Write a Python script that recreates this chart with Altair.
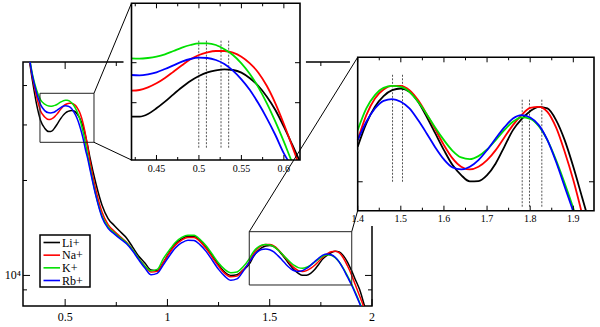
import altair as alt
import pandas as pd

# ---------------- data ----------------
X = [0.30, 0.32, 0.34, 0.36, 0.38, 0.40,
     0.42, 0.43, 0.44, 0.45, 0.46, 0.47, 0.48, 0.49, 0.50, 0.51, 0.52, 0.53, 0.54,
     0.55, 0.56, 0.57, 0.58, 0.59, 0.60, 0.61, 0.62,
     0.65, 0.68, 0.71, 0.74, 0.77, 0.80, 0.83, 0.86, 0.89, 0.92, 0.95, 0.98, 1.01,
     1.04, 1.07, 1.10, 1.13, 1.16, 1.19, 1.22, 1.25, 1.28, 1.31, 1.34, 1.37,
     1.40, 1.42, 1.44, 1.46, 1.48, 1.50, 1.52, 1.54, 1.56, 1.58, 1.60, 1.62, 1.64,
     1.66, 1.68, 1.70, 1.72, 1.74, 1.76, 1.78, 1.80, 1.82, 1.84, 1.86, 1.88, 1.90,
     1.92, 1.94,
     1.96, 1.98, 2.00]

LI = [60000, 50500, 41500, 35000, 31000, 29300,
      28603, 28603, 28870, 29437, 30103, 30837, 31537, 32170, 32670, 33037, 33237, 33337, 33270,
      33003, 32437, 31670, 30603, 29270, 27603, 25770, 23900,
      19600, 16730, 15150, 14400, 13750, 13150, 12300, 11500, 10950, 10400, 10350, 11000, 11850,
      12600, 13050, 13300, 13280, 12900, 12250, 11500, 10800, 10250, 10000, 10050, 10400,
      10855, 11466, 11922, 12223, 12397, 12445, 12348, 12063, 11646, 11200, 10771, 10399, 10158,
      10009, 10016, 10158, 10440, 10855, 11288, 11583, 11801, 11922, 11876, 11556, 11025, 10358,
      9655, 9000,
      8150, 7350, 6600]

NA = [60000, 51000, 42500, 37000, 33200, 31800,
      31203, 31270, 31537, 31937, 32470, 33103, 33737, 34337, 34770, 35037, 35170, 35170, 35003,
      34603, 33937, 33003, 31670, 29937, 27870, 25603, 23300,
      18700, 15900, 14500, 13800, 13250, 12750, 12050, 11300, 10700, 10250, 10300, 11000, 11800,
      12500, 12950, 13200, 13180, 12800, 12150, 11400, 10700, 10150, 9900, 9950, 10400,
      11025, 11692, 12157, 12416, 12523, 12523, 12397, 12110, 11719, 11306, 10897, 10563, 10358,
      10294, 10358, 10521, 10771, 11095, 11421, 11692, 11894, 11922, 11783, 11359, 10729, 10040,
      9286, 8590,
      7950, 7300, 6700]

KK = [60000, 51500, 43500, 38800, 36000, 34900,
      34437, 34403, 34470, 34603, 34837, 35170, 35503, 35770, 35937, 35937, 35770, 35337, 34770,
      33937, 32870, 31537, 29937, 28103, 26103, 24000, 22300,
      18000, 15450, 14250, 13650, 13150, 12700, 12050, 11300, 10700, 10350, 10450, 11300, 12050,
      12750, 13200, 13420, 13400, 13000, 12400, 11650, 10950, 10450, 10200, 10250, 10650,
      11288, 11876, 12252, 12465, 12523, 12494, 12348, 12063, 11719, 11350, 11025, 10754, 10587,
      10546, 10620, 10788, 11025, 11288, 11511, 11628, 11592, 11394, 11025, 10521, 9962, 9395,
      8791, 8194,
      7600, 7000, 6400]

RB = [60000, 51200, 43000, 38000, 34800, 33300,
      32770, 32737, 32837, 33037, 33370, 33737, 34103, 34370, 34503, 34470, 34270, 33870, 33203,
      32337, 31270, 29937, 28437, 26770, 24937, 23500, 21900,
      17900, 15300, 14100, 13550, 13050, 12600, 11950, 11200, 10550, 10050, 10150, 10800, 11550,
      12250, 12700, 12940, 12900, 12500, 11900, 11150, 10450, 9950, 9650, 9750, 10300,
      11025, 11511, 11876, 12091, 12138, 12063, 11876, 11556, 11200, 10838, 10538, 10342, 10294,
      10358, 10521, 10771, 11069, 11359, 11601, 11692, 11628, 11421, 11025, 10480, 9884, 9322,
      8724, 8130,
      7550, 6950, 6350]

NAMES = ["Li+", "Na+", "K+", "Rb+"]
SERIES = [LI, NA, KK, RB]

# main panel axes
MAIN_X = [0.294, 2.0]
MAIN_Y = [8000, 47500]
MAIN_XT_MAJOR = [0.5, 1.0, 1.5, 2.0]
MAIN_XT_LABELS = ["0.5", "1", "1.5", "2"]
MAIN_XT_MINOR = [0.75, 1.25, 1.75]
MAIN_YT_MAJOR = [10000]
MAIN_YT_LABELS = ["10\u2074"]
MAIN_YT_MINOR = [9000, 20000, 30000, 40000]
ZOOM1 = [0.377, 0.641, 26430, 37800]
ZOOM2 = [1.40, 1.901, 9326, 13763]
CONN_X1 = [0.641, 0.641, 1.40, 1.901]
CONN_Y1 = [37800, 26430, 13763, 13763]
CONN_X2 = [0.824, 0.824, 1.930, 1.930]
CONN_Y2 = [72910, 23230, 49160, 16045]

# inset 1
IN1_X = [0.4206, 0.619]
IN1_Y = [24270, 39940]
IN1_XT_MAJOR = [0.45, 0.5, 0.55, 0.6]
IN1_XT_LABELS = ["0.45", "0.5", "0.55", "0.6"]
IN1_XT_MINOR = [0.425, 0.475, 0.525, 0.575]
IN1_YT = [30000, 34000]
IN1_DASH_X = [0.4998, 0.5088, 0.526, 0.535]
IN1_DASH_LO = [25500, 25500, 25500, 25500]
IN1_DASH_HI = [36340, 36340, 36340, 36340]

# inset 2
IN2_X = [1.4, 1.948]
IN2_Y = [9344, 13390]
IN2_XT_MAJOR = [1.4, 1.5, 1.6, 1.7, 1.8, 1.9]
IN2_XT_LABELS = ["1.4", "1.5", "1.6", "1.7", "1.8", "1.9"]
IN2_XT_MINOR = [1.45, 1.55, 1.65, 1.75, 1.85]
IN2_YT = [10000]
IN2_DASH_X = [1.4808, 1.5039, 1.7815, 1.7984, 1.827]
IN2_DASH_LO = [10000, 10000, 9432, 9432, 9432]
IN2_DASH_HI = [12890, 12890, 12155, 12155, 12155]

# ---------------- layout / style ----------------
W, H = 349, 244
PAD = {"left": 23, "top": 62, "right": 228, "bottom": 21}
FONT = "Liberation Serif"
COLORS = ["#000000", "#ff0000", "#00e000", "#0000ff"]
IN1_XR, IN1_YR = [108.5, 277], [98, -58.7]
IN2_XR, IN2_YR = [334.7, 571], [148.7, -4.7]


def sc(domain, rng, log=False):
    if log:
        return alt.Scale(type="log", domain=domain, range=rng, nice=False)
    return alt.Scale(domain=domain, range=rng, nice=False, zero=False)


mx, my = sc(MAIN_X, [0, W]), sc(MAIN_Y, [H, 0], log=True)
i1x, i1y = sc(IN1_X, IN1_XR), sc(IN1_Y, IN1_YR)
i2x, i2y = sc(IN2_X, IN2_XR), sc(IN2_Y, IN2_YR, log=True)


def series_df(i, lo=None, hi=None, cut=None):
    df = pd.DataFrame({"x": X, "v": SERIES[i]})
    if lo is not None:
        df = df[(df.x >= lo - 1e-9) & (df.x <= hi + 1e-9)]
    if cut is not None:
        df = df[df.v >= cut]
    return df


def line_layers(xs, ys, width, clip, lo=None, hi=None, cut=None):
    out = []
    for i in range(4):
        out.append(
            alt.Chart(series_df(i, lo, hi, cut))
            .mark_line(color=COLORS[i], strokeWidth=width, interpolate="monotone", clip=clip)
            .encode(x=alt.X("x:Q", scale=xs, axis=None),
                    y=alt.Y("v:Q", scale=ys, axis=None))
        )
    return out


def vticks(vals, xs, ys, yd, length):
    return alt.Chart(pd.DataFrame({"t": vals})).mark_rule(
        color="black", strokeWidth=1, y2Offset=length
    ).encode(
        x=alt.X("t:Q", scale=xs, axis=None),
        y=alt.YDatum(yd, scale=ys, axis=None, type="quantitative"),
        y2=alt.Y2Datum(yd),
    )


def hticks(vals, xs, ys, xd, length):
    return alt.Chart(pd.DataFrame({"t": vals})).mark_rule(
        color="black", strokeWidth=1, x2Offset=length
    ).encode(
        y=alt.Y("t:Q", scale=ys, axis=None),
        x=alt.XDatum(xd, scale=xs, axis=None, type="quantitative"),
        x2=alt.X2Datum(xd),
    )


def xlabels(vals, texts, xs, ys, yd, dy, size):
    return alt.Chart(pd.DataFrame({"t": vals, "s": texts})).mark_text(
        font=FONT, fontSize=size, dy=dy, baseline="middle", align="center", color="black"
    ).encode(
        x=alt.X("t:Q", scale=xs, axis=None),
        y=alt.YDatum(yd, scale=ys, axis=None, type="quantitative"),
        text="s:N",
    )


def ylabels(vals, texts, xs, ys, xd, dx, size):
    return alt.Chart(pd.DataFrame({"t": vals, "s": texts})).mark_text(
        font=FONT, fontSize=size, dx=dx, baseline="middle", align="right", color="black"
    ).encode(
        y=alt.Y("t:Q", scale=ys, axis=None),
        x=alt.XDatum(xd, scale=xs, axis=None, type="quantitative"),
        text="s:N",
    )


def box(bx, xs, ys, fill="white", fill_opacity=0.0, stroke="black", sw=1.0):
    df = pd.DataFrame({"x1": [bx[0]], "x2": [bx[1]], "y1": [bx[2]], "y2": [bx[3]]})
    kw = dict(fill=fill, fillOpacity=fill_opacity)
    if stroke is not None:
        kw.update(stroke=stroke, strokeWidth=sw)
    else:
        kw.update(strokeWidth=0)
    return alt.Chart(df).mark_rect(**kw).encode(
        x=alt.X("x1:Q", scale=xs, axis=None), x2="x2:Q",
        y=alt.Y("y1:Q", scale=ys, axis=None), y2="y2:Q",
    )


def dashes(xv, lo, hi, xs, ys):
    return alt.Chart(pd.DataFrame({"x": xv, "lo": lo, "hi": hi})).mark_rule(
        color="#555555", strokeWidth=1, strokeDash=[2, 1.5]
    ).encode(x=alt.X("x:Q", scale=xs, axis=None),
             y=alt.Y("lo:Q", scale=ys, axis=None), y2="hi:Q")


# ---------------- main panel ----------------
main = alt.layer(
    *line_layers(mx, my, 1.5, True),
    box(ZOOM1, mx, my, stroke="#222222", sw=1),
    box(ZOOM2, mx, my, stroke="#222222", sw=1),
    vticks(MAIN_XT_MAJOR, mx, my, MAIN_Y[0], -7),
    vticks(MAIN_XT_MINOR, mx, my, MAIN_Y[0], -4),
    vticks(MAIN_XT_MAJOR, mx, my, MAIN_Y[1], 7),
    vticks(MAIN_XT_MINOR, mx, my, MAIN_Y[1], 4),
    hticks(MAIN_YT_MAJOR, mx, my, MAIN_X[0], 7),
    hticks(MAIN_YT_MINOR, mx, my, MAIN_X[0], 4),
    hticks(MAIN_YT_MAJOR, mx, my, MAIN_X[1], -7),
    hticks(MAIN_YT_MINOR, mx, my, MAIN_X[1], -4),
    xlabels(MAIN_XT_MAJOR, MAIN_XT_LABELS, mx, my, MAIN_Y[0], 11, 12),
    ylabels(MAIN_YT_MAJOR, MAIN_YT_LABELS, mx, my, MAIN_X[0], -2, 12),
)

# ---------------- legend ----------------
leg_y = alt.Scale(type="point", domain=NAMES, range=[180.5, 218.5], padding=0)
leg_c = alt.Scale(domain=NAMES, range=COLORS)
leg_df = pd.DataFrame({"ion": NAMES})
legend = alt.layer(
    alt.Chart(pd.DataFrame({"a": [0]})).mark_rect(fill="white", stroke="black", strokeWidth=1.5)
    .encode(x=alt.value(17), x2=alt.value(67), y=alt.value(173), y2=alt.value(225)),
    alt.Chart(leg_df).mark_rule(strokeWidth=1.6).encode(
        x=alt.value(20.5), x2=alt.value(37),
        y=alt.Y("ion:N", scale=leg_y, axis=None),
        color=alt.Color("ion:N", scale=leg_c, legend=None)),
    alt.Chart(leg_df).mark_text(align="left", baseline="middle", font=FONT, fontSize=12,
                                color="black").encode(
        x=alt.value(39), y=alt.Y("ion:N", scale=leg_y, axis=None), text="ion:N"),
)

# ---------------- inset 1 ----------------
ins1 = alt.layer(
    box([0.4112, 0.626, 22770, IN1_Y[1]], i1x, i1y, fill="white", fill_opacity=1, stroke=None),
    dashes(IN1_DASH_X, IN1_DASH_LO, IN1_DASH_HI, i1x, i1y),
    *line_layers(i1x, i1y, 1.8, False, lo=0.42, hi=0.62),
    box([0.4112, 0.626, 20000, IN1_Y[0]], i1x, i1y, fill="white", fill_opacity=1, stroke=None),
    vticks(IN1_XT_MAJOR, i1x, i1y, IN1_Y[0], -5),
    vticks(IN1_XT_MINOR, i1x, i1y, IN1_Y[0], -3),
    vticks(IN1_XT_MAJOR, i1x, i1y, IN1_Y[1], 5),
    vticks(IN1_XT_MINOR, i1x, i1y, IN1_Y[1], 3),
    hticks(IN1_YT, i1x, i1y, IN1_X[0], 5),
    hticks(IN1_YT, i1x, i1y, IN1_X[1], -5),
    xlabels(IN1_XT_MAJOR, IN1_XT_LABELS, i1x, i1y, IN1_Y[0], 8.5, 10),
    box([IN1_X[0], IN1_X[1], IN1_Y[0], IN1_Y[1]], i1x, i1y, stroke="black", sw=1.6),
)

# ---------------- inset 2 ----------------
ins2 = alt.layer(
    box([1.382, 1.96, 9015, IN2_Y[1]], i2x, i2y, fill="white", fill_opacity=1, stroke=None),
    dashes(IN2_DASH_X, IN2_DASH_LO, IN2_DASH_HI, i2x, i2y),
    *line_layers(i2x, i2y, 1.8, False, lo=1.40, hi=1.94, cut=8700),
    box([1.382, 1.96, 9015, IN2_Y[0]], i2x, i2y, fill="white", fill_opacity=1, stroke=None),
    box([1.4376, 1.96, 8324, IN2_Y[0]], i2x, i2y, fill="white", fill_opacity=1, stroke=None),
    vticks(IN2_XT_MAJOR, i2x, i2y, IN2_Y[0], -5),
    vticks(IN2_XT_MINOR, i2x, i2y, IN2_Y[0], -3),
    vticks(IN2_XT_MAJOR, i2x, i2y, IN2_Y[1], 5),
    vticks(IN2_XT_MINOR, i2x, i2y, IN2_Y[1], 3),
    hticks(IN2_YT, i2x, i2y, IN2_X[0], 5),
    hticks(IN2_YT, i2x, i2y, IN2_X[1], -5),
    xlabels(IN2_XT_MAJOR, IN2_XT_LABELS, i2x, i2y, IN2_Y[0], 8, 10),
    box([IN2_X[0], IN2_X[1], IN2_Y[0], IN2_Y[1]], i2x, i2y, stroke="black", sw=1.6),
)

# ---------------- connector lines ----------------
conn = alt.Chart(pd.DataFrame({"x1": CONN_X1, "y1": CONN_Y1, "x2": CONN_X2, "y2": CONN_Y2})).mark_rule(
    color="black", strokeWidth=1
).encode(
    x=alt.X("x1:Q", scale=sc(MAIN_X, [0, W]), axis=None), x2="x2:Q",
    y=alt.Y("y1:Q", scale=sc(MAIN_Y, [H, 0], log=True), axis=None), y2="y2:Q",
)

chart = alt.layer(main, legend, ins1, ins2, conn).resolve_scale(
    x="independent", y="independent", color="independent"
).properties(
    width=W, height=H, padding=PAD, autosize=alt.AutoSizeParams(type="none")
).configure_view(stroke="black", strokeWidth=1.5)

chart.save("out.html", embed_options={"renderer": "svg", "actions": False})
